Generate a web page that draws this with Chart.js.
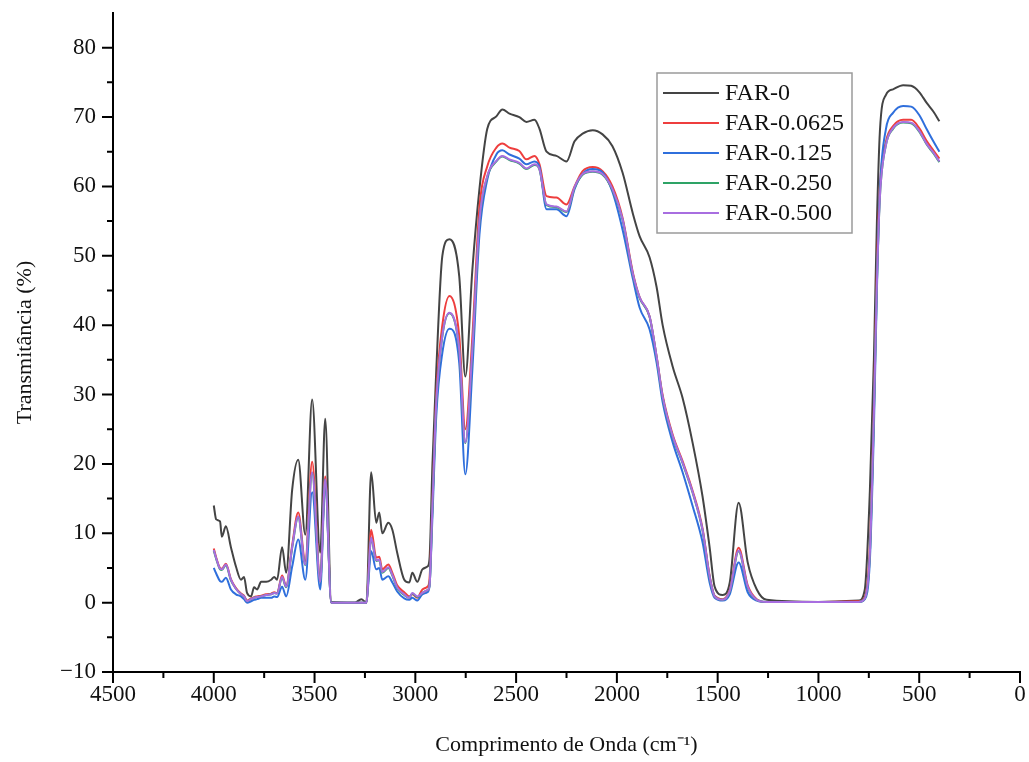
<!DOCTYPE html>
<html>
<head>
<meta charset="utf-8">
<script src="https://cdn.jsdelivr.net/npm/chart.js@4.4.0/dist/chart.umd.min.js"></script>
<style>
  html, body { margin: 0; padding: 0; background: #fff; }
  #wrap { width: 1029px; height: 762px; }
</style>
</head>
<body>
<div id="wrap"><canvas id="ftir"></canvas></div>
<script>
// FTIR spectra - transmittance vs wavenumber
const wavenumbers = [4000, 3988, 3969, 3960, 3940, 3915, 3890, 3865, 3850, 3835,
  3815, 3800, 3785, 3765, 3740, 3715, 3700, 3686, 3661, 3641,
  3611, 3581, 3546, 3512, 3472, 3447, 3417, 3300, 3268, 3243,
  3219, 3194, 3179, 3164, 3134, 3114, 3090, 3055, 3030, 3015,
  2990, 2965, 2940, 2930, 2915, 2896, 2866, 2831, 2782, 2752,
  2717, 2682, 2643, 2598, 2568, 2533, 2484, 2449, 2409, 2384,
  2349, 2300, 2250, 2210, 2170, 2120, 2071, 2022, 1972, 1920,
  1887, 1838, 1803, 1773, 1723, 1674, 1624, 1575, 1540, 1515,
  1475, 1440, 1396, 1351, 1306, 1257, 1000, 800, 770, 745,
  725, 710, 695, 665, 630, 580, 540, 500, 462, 430, 400];

const far0 = [14.0, 12.0, 11.7, 9.5, 11.0, 8.0, 5.2, 3.3, 3.7, 1.4,
  0.9, 2.2, 1.9, 3.0, 3.0, 3.3, 3.7, 3.3, 8.0, 4.3,
  16.3, 20.6, 9.8, 29.3, 7.2, 26.5, 0.1, 0.0, 0.5, 0.0,
  18.8, 11.5, 13.0, 10.0, 11.5, 10.5, 7.2, 3.3, 2.9, 4.3,
  3.0, 4.8, 5.2, 6.2, 20.0, 33.6, 50.0, 52.4, 47.0, 32.6,
  48.0, 59.6, 68.3, 70.1, 71.1, 70.5, 70.0, 69.3, 69.6, 68.3,
  65.0, 64.4, 63.6, 66.5, 67.6, 68.1, 67.5, 65.8, 62.0, 56.0,
  52.8, 49.8, 45.5, 40.0, 34.0, 29.5, 23.0, 15.3, 8.0, 2.3,
  1.1, 2.9, 14.4, 5.8, 1.9, 0.4, 0.1, 0.3, 1.9, 16.0,
  35.0, 54.8, 68.0, 73.2, 74.0, 74.6, 74.5, 73.6, 72.0, 70.8, 69.4];

const far0625 = [7.8, 6.5, 5.0, 4.9, 5.6, 3.4, 2.1, 1.3, 1.0, 0.3,
  0.6, 0.8, 0.9, 1.0, 1.2, 1.3, 1.5, 1.4, 3.9, 2.4,
  8.3, 13.0, 6.0, 20.3, 3.5, 18.2, 0.0, 0.0, 0.0, 0.0,
  10.5, 6.5, 6.6, 4.8, 5.5, 4.3, 2.5, 1.5, 0.9, 1.2,
  0.7, 1.9, 2.3, 3.3, 14.5, 30.0, 40.0, 44.2, 38.4, 25.0,
  38.4, 57.0, 62.9, 65.6, 66.2, 65.6, 65.1, 63.9, 64.4, 63.2,
  58.6, 58.4, 57.4, 60.0, 62.2, 62.8, 62.2, 60.0, 55.5, 47.5,
  44.0, 41.3, 35.5, 29.9, 24.2, 20.4, 16.1, 10.7, 3.9, 1.0,
  0.5, 1.8, 7.9, 2.5, 0.5, 0.1, 0.1, 0.2, 0.8, 8.0,
  28.0, 48.0, 60.0, 66.5, 68.7, 69.6, 69.6, 68.4, 66.5, 65.2, 64.0];

const far125 = [5.0, 4.2, 3.1, 3.0, 3.6, 1.9, 1.2, 0.9, 0.5, 0.0,
  0.2, 0.4, 0.5, 0.7, 0.7, 0.7, 0.9, 0.8, 2.3, 0.9,
  5.2, 9.1, 3.3, 15.9, 1.9, 17.0, 0.0, 0.0, 0.0, 0.0,
  7.4, 4.8, 5.0, 3.3, 3.8, 2.9, 1.6, 0.6, 0.4, 0.7,
  0.3, 1.2, 1.5, 2.3, 12.5, 27.0, 36.0, 39.5, 34.5, 18.5,
  33.6, 53.0, 61.0, 64.6, 65.2, 64.6, 64.0, 63.2, 63.6, 62.8,
  56.7, 56.7, 55.7, 59.6, 61.8, 62.5, 62.0, 59.2, 53.8, 46.6,
  42.5, 39.4, 34.6, 28.9, 23.1, 18.8, 13.9, 8.7, 2.9, 0.7,
  0.3, 1.2, 5.8, 1.5, 0.3, 0.1, 0.1, 0.1, 0.5, 6.0,
  25.0, 45.0, 59.6, 68.3, 70.6, 71.6, 71.5, 70.3, 68.2, 66.5, 65.0];

const far250 = [7.5, 6.3, 4.8, 4.7, 5.4, 3.2, 2.0, 1.2, 0.9, 0.2,
  0.5, 0.7, 0.8, 0.9, 1.1, 1.2, 1.4, 1.3, 3.6, 2.2,
  7.9, 12.3, 5.4, 18.7, 3.0, 17.7, 0.0, 0.0, 0.0, 0.0,
  9.3, 6.0, 6.1, 4.3, 5.0, 3.9, 2.1, 1.1, 0.7, 1.3,
  0.8, 1.4, 1.8, 2.3, 13.8, 28.8, 38.4, 41.7, 36.4, 23.0,
  36.4, 54.9, 61.4, 63.6, 64.3, 63.8, 63.3, 62.5, 63.1, 62.4,
  57.3, 57.0, 56.3, 59.8, 61.7, 62.1, 61.7, 59.5, 55.2, 47.2,
  43.9, 41.2, 35.4, 29.6, 23.9, 20.1, 15.8, 10.4, 3.7, 0.9,
  0.4, 1.6, 7.4, 2.2, 0.4, 0.1, 0.1, 0.1, 0.6, 7.0,
  27.0, 46.0, 58.5, 66.0, 68.3, 69.2, 69.1, 67.9, 66.0, 64.8, 63.5];

const far500 = [7.6, 6.4, 4.9, 4.8, 5.5, 3.3, 2.0, 1.2, 0.9, 0.2,
  0.5, 0.7, 0.8, 0.9, 1.1, 1.2, 1.4, 1.3, 3.7, 2.3,
  8.0, 12.4, 5.5, 18.8, 3.0, 17.8, 0.0, 0.0, 0.0, 0.0,
  9.4, 6.1, 6.2, 4.4, 5.1, 4.0, 2.2, 1.2, 0.7, 1.4,
  0.9, 1.4, 1.8, 2.3, 14.0, 28.9, 38.5, 41.8, 36.5, 23.1,
  36.5, 55.0, 61.5, 63.7, 64.4, 63.9, 63.4, 62.6, 63.2, 62.5,
  57.4, 57.1, 56.4, 59.9, 61.8, 62.2, 61.8, 59.6, 55.3, 47.3,
  44.0, 41.3, 35.5, 29.7, 24.0, 20.2, 15.9, 10.5, 3.8, 0.9,
  0.4, 1.7, 7.5, 2.3, 0.4, 0.1, 0.1, 0.1, 0.6, 7.0,
  27.0, 46.0, 58.5, 66.0, 68.4, 69.3, 69.2, 68.0, 66.1, 64.9, 63.6];

const seriesNames = ['FAR-0', 'FAR-0.0625', 'FAR-0.125', 'FAR-0.250', 'FAR-0.500'];
const seriesColors = ['#444444', '#ee3e3e', '#2f6fdc', '#2ea366', '#a86ee0'];

const xMajorTicks = [4500, 4000, 3500, 3000, 2500, 2000, 1500, 1000, 500, 0];
const xMinorTicks = [4250, 3750, 3250, 2750, 2250, 1750, 1250, 750, 250];
const yMajorTicks = [-10, 0, 10, 20, 30, 40, 50, 60, 70, 80];
const yMinorTicks = [-5, 5, 15, 25, 35, 45, 55, 65, 75];

const FONT = "'Liberation Serif', 'Times New Roman', serif";

function pts(values) {
  return wavenumbers.map((w, i) => ({ x: w, y: values[i] }));
}

const allSeries = [far0, far0625, far125, far250, far500];

const datasets = allSeries.map((vals, i) => ({
  label: seriesNames[i],
  data: pts(vals),
  borderColor: seriesColors[i],
  borderWidth: 2,
  pointRadius: 0,
  fill: false,
  cubicInterpolationMode: 'monotone',
  order: allSeries.length - 1 - i   // purple on top
}));

// outward major/minor tick marks
const tickMarks = {
  id: 'tickMarks',
  afterDraw(chart) {
    const { ctx } = chart;
    const x = chart.scales.x, y = chart.scales.y;
    ctx.save();
    ctx.strokeStyle = '#000';
    ctx.lineWidth = 2;
    ctx.beginPath();
    const xb = x.top;
    xMajorTicks.forEach(v => { const p = x.getPixelForValue(v); ctx.moveTo(p, xb); ctx.lineTo(p, xb + 11); });
    xMinorTicks.forEach(v => { const p = x.getPixelForValue(v); ctx.moveTo(p, xb); ctx.lineTo(p, xb + 6); });
    const yb = y.right;
    yMajorTicks.forEach(v => { const p = y.getPixelForValue(v); ctx.moveTo(yb, p); ctx.lineTo(yb - 11, p); });
    yMinorTicks.forEach(v => { const p = y.getPixelForValue(v); ctx.moveTo(yb, p); ctx.lineTo(yb - 6, p); });
    ctx.stroke();
    ctx.restore();
  }
};

// boxed legend inside plot
const boxLegend = {
  id: 'boxLegend',
  afterDraw(chart) {
    const { ctx } = chart;
    const bx = 657, by = 73, bw = 195, bh = 160, rowH = 30;
    ctx.save();
    ctx.fillStyle = '#fff';
    ctx.fillRect(bx, by, bw, bh);
    ctx.strokeStyle = '#9a9a9a';
    ctx.lineWidth = 1.5;
    ctx.strokeRect(bx, by, bw, bh);
    ctx.font = '24px ' + FONT;
    ctx.textBaseline = 'middle';
    ctx.textAlign = 'left';
    chart.data.datasets.forEach((ds, i) => {
      const cy = by + 20 + i * rowH;
      ctx.strokeStyle = ds.borderColor;
      ctx.lineWidth = 2;
      ctx.beginPath();
      ctx.moveTo(bx + 6, cy);
      ctx.lineTo(bx + 62, cy);
      ctx.stroke();
      ctx.fillStyle = '#111';
      ctx.fillText(ds.label, bx + 68, cy + 1);
    });
    ctx.restore();
  }
};

new Chart(document.getElementById('ftir'), {
  type: 'line',
  data: { datasets },
  options: {
    responsive: true,
    maintainAspectRatio: false,
    animation: false,
    layout: { padding: { left: 0, top: 13, right: 9, bottom: 0 } },
    plugins: {
      legend: { display: false },
      tooltip: { enabled: false }
    },
    scales: {
      x: {
        type: 'linear',
        reverse: true,
        min: 0,
        max: 4500,
        afterBuildTicks: s => { s.ticks = xMajorTicks.map(v => ({ value: v })); },
        afterFit: s => { s.height = 90; s.paddingLeft = 0; s.paddingRight = 0; },
        grid: { display: true, drawOnChartArea: false, drawTicks: false },
        border: { display: true, color: '#000', width: 2 },
        ticks: {
          color: '#111',
          padding: 9,
          maxRotation: 0,
          font: { family: FONT, size: 23 },
          callback: v => String(v)
        },
        title: {
          display: true,
          text: 'Comprimento de Onda (cm\u207B\u00B9)',
          color: '#111',
          font: { family: FONT, size: 22 },
          padding: { top: 4, bottom: 4 }
        }
      },
      y: {
        min: -10,
        max: 85,
        afterBuildTicks: s => { s.ticks = yMajorTicks.map(v => ({ value: v })); },
        afterFit: s => { s.width = 113; s.paddingTop = 0; s.paddingBottom = 0; },
        grid: { display: true, drawOnChartArea: false, drawTicks: false },
        border: { display: true, color: '#000', width: 2 },
        ticks: {
          color: '#111',
          padding: 17,
          font: { family: FONT, size: 23 },
          callback: v => v < 0 ? '\u2212' + Math.abs(v) : String(v)
        },
        title: {
          display: true,
          text: 'Transmitância (%)',
          color: '#111',
          font: { family: FONT, size: 22 },
          padding: { top: 12, bottom: 0 }
        }
      }
    }
  },
  plugins: [tickMarks, boxLegend]
});
</script>
</body>
</html>
